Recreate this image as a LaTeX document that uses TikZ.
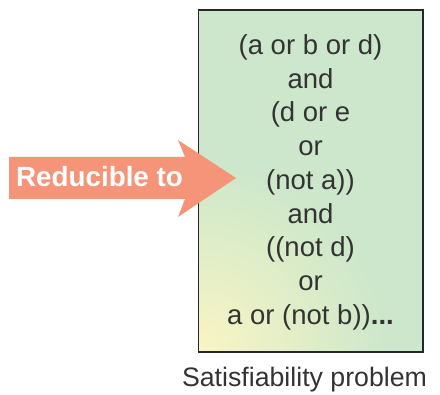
\documentclass[tikz,border=0pt]{standalone}
\usepackage{fontspec}
\setmainfont{Liberation Sans}
\definecolor{boxgreen}{HTML}{CCE7CB}
\definecolor{boxyellow}{HTML}{FAF5C4}
\definecolor{arrowsalmon}{HTML}{F69479}
\definecolor{textgray}{HTML}{333333}
\tikzset{
  clause/.style={anchor=base, text=textgray, inner sep=0pt, font=\fontsize{27.5}{30}\selectfont},
  caption/.style={anchor=base, text=textgray, inner sep=0pt, font=\fontsize{26.7}{30}\selectfont},
  arrowlabel/.style={anchor=base, text=white, inner sep=0pt, font=\bfseries\fontsize{27.8}{30}\selectfont},
}
\begin{document}
\begin{tikzpicture}[x=1pt,y=-1pt]
\useasboundingbox (0,0) rectangle (440,395);
% box with gradient
\fill[boxgreen] (198.5,10) rectangle (423,352);
\begin{scope}
  \clip (198.5,10) rectangle (423,352);
  \shade[inner color=boxyellow, outer color=boxgreen] (198.5,352) circle (190);
\end{scope}
\draw[line width=1.6pt, draw=black!85] (198.5,10) rectangle (423,352);
\coordinate (boxc) at (310.5,181);
% arrow
\fill[arrowsalmon] (9,157) -- (185,157) -- (178,140) -- (236,178) -- (178,217) -- (185,199) -- (9,199) -- cycle;
\node[arrowlabel] (red) at (99.5,186.5) {Reducible to};
% clauses
\foreach \t [count=\i from 0] in {{(a or b or d)},{and},{(d or e},{or},{(not a))},{and},{((not d)},{or},{a or (not b))\textbf{...}}}
  \node[clause] (l\i) at (310.5,{54.5+\i*33.75}) {\t};
\node[caption] (cap) at (304.5,387) {Satisfiability problem};
\end{tikzpicture}
\end{document}
